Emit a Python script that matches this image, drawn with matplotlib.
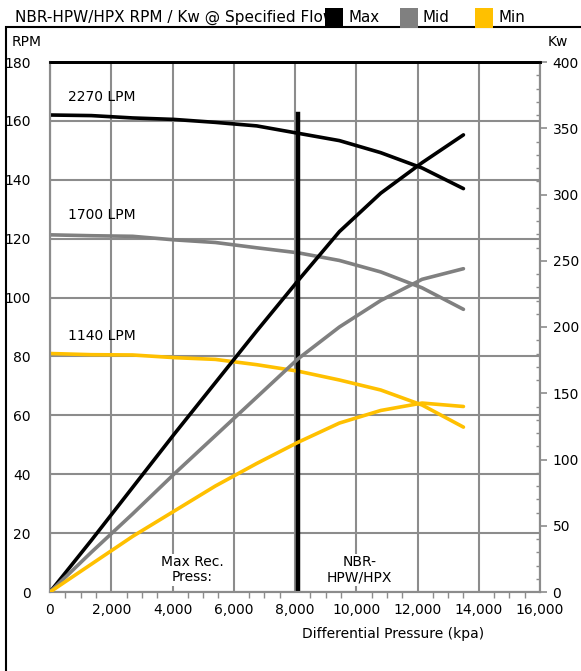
import numpy as np
import matplotlib
matplotlib.use('Agg')
import matplotlib.pyplot as plt
from matplotlib.patches import Rectangle
from matplotlib.ticker import MultipleLocator, FuncFormatter

# Differential pressure points (kpa)
pressure = [0, 1350, 2700, 4050, 5400, 6750, 8100, 9450, 10800, 12150, 13500]

# RPM curves (left axis)
rpm_max = [162, 161.8, 161, 160.5, 159.5, 158.3, 155.8, 153.3, 149.2, 144, 137]
rpm_mid = [121.3, 121, 120.8, 119.6, 118.7, 116.9, 115.2, 112.6, 108.7, 103.3, 96]
rpm_min = [81, 80.6, 80.5, 79.6, 79, 77.2, 75, 72, 68.6, 63.5, 56]

# Power curves (right axis, Kw)
kw_max = [0, 39, 79, 119, 158, 197, 235, 272, 301, 324, 345]
kw_mid = [0, 30, 59, 89, 118, 147, 176, 200, 220, 236, 244]
kw_min = [0, 21, 42, 61, 80, 97, 113, 127.5, 137, 142.6, 140]

flow_labels = ['2270 LPM', '1700 LPM', '1140 LPM']
flow_label_y = [168, 128, 87]

max_rec_press = 8100
series_names = ['Max', 'Mid', 'Min']
colors = ['#000000', '#808080', '#FFC000']
grid_col = '#8c8c8c'

W, H = 581, 671
fs = 10
fig = plt.figure(figsize=(W / 100, H / 100), dpi=100)
ax = fig.add_axes([50 / W, 1 - 592 / H, 490 / W, 530 / H])
ax2 = ax.twinx()

ax.set_xlim(0, 16000)
ax.set_ylim(0, 180)
ax2.set_ylim(0, 400)

ax.xaxis.set_major_locator(MultipleLocator(2000))
ax.xaxis.set_minor_locator(MultipleLocator(500))
ax.yaxis.set_major_locator(MultipleLocator(20))
ax2.yaxis.set_major_locator(MultipleLocator(50))
ax2.yaxis.set_minor_locator(MultipleLocator(10))
ax.xaxis.set_major_formatter(FuncFormatter(lambda v, p: f'{int(v):,}'))

ax.grid(True, which='major', color=grid_col, lw=1.5)
ax.set_axisbelow(True)

for a in (ax, ax2):
    for s in ['left', 'bottom', 'right']:
        a.spines[s].set_color(grid_col)
        a.spines[s].set_linewidth(1.5)
    a.spines['top'].set_color('black')
    a.spines['top'].set_linewidth(2)

ax.tick_params(axis='y', length=0, labelsize=fs, pad=14)
ax.tick_params(axis='x', which='major', length=0, labelsize=fs, pad=8)
ax.tick_params(axis='x', which='minor', length=4, color=grid_col, width=1, direction='out')
ax2.tick_params(axis='y', which='major', length=5, color=grid_col, width=1.2,
                labelsize=fs, pad=4)
ax2.tick_params(axis='y', which='minor', length=3, color=grid_col, width=1, direction='in')

lw = 2.6
for rpm, kw, c in zip([rpm_max, rpm_mid, rpm_min], [kw_max, kw_mid, kw_min], colors):
    ax.plot(pressure, rpm, color=c, lw=lw, solid_capstyle='round', zorder=3)
    ax2.plot(pressure, kw, color=c, lw=lw, solid_capstyle='round', zorder=3)

ax.plot([max_rec_press, max_rec_press], [0, 162.5], color='black', lw=3.2, zorder=4)

for lab, y in zip(flow_labels, flow_label_y):
    ax.text(600, y, lab, fontsize=fs, va='center', ha='left')

ax.text(4650, 7.5, 'Max Rec.\nPress:', fontsize=fs, ha='center', va='center',
        linespacing=1.1, bbox=dict(fc='white', ec='none', pad=1))
ax.text(10100, 7.5, 'NBR-\nHPW/HPX', fontsize=fs, ha='center', va='center',
        linespacing=1.1, bbox=dict(fc='white', ec='none', pad=1))

fig.text(12 / W, 1 - 42 / H, 'RPM', fontsize=fs, va='center', ha='left')
fig.text(548 / W, 1 - 42 / H, 'Kw', fontsize=fs, va='center', ha='left')
fig.text(393 / W, 1 - 634 / H, 'Differential Pressure (kpa)', fontsize=fs,
         ha='center', va='center')

# outer frame
fig.patches.append(Rectangle((6 / W, -0.1), 2, 1.1 - 27 / H, transform=fig.transFigure,
                             fill=False, ec='black', lw=1.5))

fig.text(15 / W, 1 - 17 / H, 'NBR-HPW/HPX RPM / Kw @ Specified Flow', fontsize=11.0,
         va='center', ha='left', zorder=1)

# legend
leg_x = [325, 400, 475]
for name, c, lx in zip(series_names, colors, leg_x):
    fig.patches.append(Rectangle((lx / W, 1 - 28 / H), 18 / W, 20 / H,
                                 transform=fig.transFigure, fc=c, ec='none', zorder=5))
    fig.text((lx + 23) / W, 1 - 17 / H, name, fontsize=10.8, va='center', ha='left')

fig.savefig('out.png', dpi=100)
